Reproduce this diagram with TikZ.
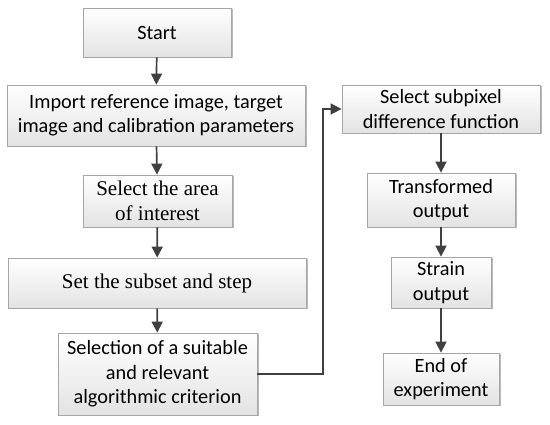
\documentclass[tikz,border=0pt]{standalone}
\usepackage{fontspec}
\setmainfont{Carlito}
\newfontfamily\serifb{Liberation Serif}
\usetikzlibrary{arrows.meta,shadows}
\begin{document}
\begin{tikzpicture}[x=1pt,y=-1pt,
  box/.style={draw=gray!70, line width=0.8pt, top color=white, bottom color=gray!22,
    drop shadow={shadow xshift=1.5pt, shadow yshift=-1.5pt, fill=gray!55, opacity=1},
    align=center, inner sep=0pt, font=\fontsize{20.3}{24.5}\selectfont},
  sbox/.style={box, font=\serifb\fontsize{21}{24.5}\selectfont},
  arr/.style={draw=black!75, line width=1.7pt, -{Triangle[length=11pt,width=11pt]}},
  ]
\useasboundingbox (0,0) rectangle (550,425);
\node[box, minimum width=148pt, minimum height=49pt] (start) at (157,32.5) {Start};
\node[box, minimum width=298pt, minimum height=61pt] (import) at (156,115.5) {Import reference image, target\\image and calibration parameters};
\node[sbox, minimum width=149pt, minimum height=52pt] (area) at (157.5,201) {Select the area\\of interest};
\node[sbox, minimum width=298pt, minimum height=50pt] (subset) at (157,283) {Set the subset and step};
\node[box, minimum width=199pt, minimum height=82pt] (sel) at (157.5,374) {Selection of a suitable\\and relevant\\algorithmic criterion};
\node[box, minimum width=198pt, minimum height=48pt] (sub) at (441,109) {Select subpixel\\difference function};
\node[box, minimum width=148pt, minimum height=54pt] (trans) at (441,200) {Transformed\\output};
\node[box, minimum width=100pt, minimum height=51pt] (strain) at (441,282.5) {Strain\\output};
\node[box, minimum width=116pt, minimum height=52pt] (end) at (441,379) {End of\\experiment};
\coordinate (bend) at (323,374);
\draw[arr] (start) -- (import);
\draw[arr] (import) -- (area);
\draw[arr] (area) -- (subset);
\draw[arr] (subset) -- (sel);
\draw[arr] (sel.east) -- (bend) |- (sub.west);
\draw[arr] (sub) -- (trans);
\draw[arr] (trans) -- (strain);
\draw[arr] (strain) -- (end);
\end{tikzpicture}
\end{document}
